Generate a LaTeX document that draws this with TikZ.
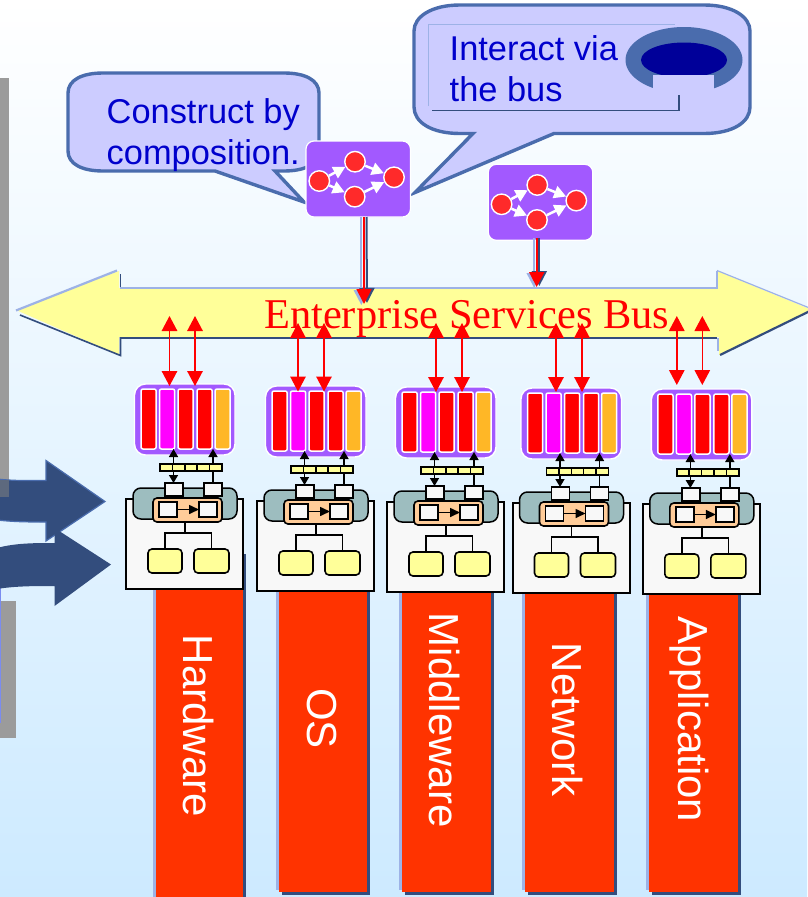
\documentclass[tikz,border=0pt]{standalone}
\usepackage{fontspec}
\setmainfont{Liberation Sans}
\newfontfamily\busfont{Liberation Serif}
\usetikzlibrary{arrows.meta,shapes.geometric}
\definecolor{skyb}{HTML}{CDEAFF}
\definecolor{paleb}{HTML}{9DB2E6}
\definecolor{darkb}{HTML}{334D7D}
\definecolor{edgeb}{HTML}{4A6CAD}
\definecolor{lilac}{HTML}{CCCCFF}
\definecolor{inkb}{HTML}{0000CC}
\definecolor{busy}{HTML}{FFFF99}
\definecolor{purp}{HTML}{A259FF}
\definecolor{ball}{HTML}{FF2A2A}
\definecolor{amber}{HTML}{FFB726}
\definecolor{teal2}{HTML}{9DBDBF}
\definecolor{peach}{HTML}{FFCC99}
\definecolor{offw}{HTML}{F8F8F8}
\definecolor{redor}{HTML}{FF3300}
\definecolor{greyb}{HTML}{9B9B9B}
\definecolor{pureM}{HTML}{FF00FF}
\definecolor{pureR}{HTML}{FF0000}
\definecolor{navyd}{HTML}{000099}
\definecolor{sideb}{HTML}{7A8CF0}
\tikzset{
  bxbase/.style={inner sep=0pt,outer sep=0pt},
  modbox/.style={fill=purp,draw=white,line width=1.4pt,rounded corners=11pt},
  slot/.style={draw=white,line width=1.5pt,rounded corners=2pt},
  strip/.style={fill=busy,draw=black,line width=1.5pt},
  tealbox/.style={fill=teal2,draw=black,line width=1.5pt,rounded corners=8pt},
  panel/.style={fill=offw,draw=black,line width=2pt},
  whitebox/.style={fill=offw,draw=black,line width=1.9pt},
  peachbox/.style={fill=peach,draw=black,line width=1.6pt,rounded corners=4pt},
  yelbox/.style={fill=busy,draw=black,line width=1.6pt,rounded corners=4pt},
  tower/.style={fill=redor},
  redarrow/.style={draw=pureR,line width=1.4pt,{Triangle[width=15.5pt,length=15pt]}-{Triangle[width=15.5pt,length=15pt]}},
  blackarrow/.style={draw=black,line width=1.6pt},
  treeline/.style={draw=black,line width=1.5pt},
  procbox/.style={fill=purp,draw=white,line width=1.2pt,rounded corners=8pt},
  procball/.style={circle,fill=ball,draw=white,line width=1.4pt,minimum size=20.5pt,inner sep=0pt},
  procarrow/.style={draw=white,line width=2.5pt,-{Triangle[width=12.5pt,length=12pt]}},
  callout/.style={fill=lilac,draw=edgeb,line width=3.4pt,line join=miter},
  calltext/.style={text=inkb,align=left,font=\fontsize{34.4}{41.2}\selectfont,inner sep=0pt,anchor=west},
  towertext/.style={text=white,rotate=-90,font=\fontsize{42}{42}\selectfont,inner sep=0pt,anchor=base west},
}
% box node from corner coordinates: style, name, x1,y1,x2,y2
\newcommand\bx[6]{\node[bxbase,#1,minimum width={(#5-(#3))*1pt},minimum height={(#6-(#4))*1pt}] (#2) at ({(#3+#5)/2},{(#4+#6)/2}) {};}
% tower: id, x1, x2, bottom, topdark
\newcommand\towerbar[5]{%
  \fill[paleb] (#2-3.5,#5) rectangle (#2,#4-2);
  \fill[darkb] (#2+3,#4) rectangle (#3+2.5,#4+2.5);
  \fill[darkb] (#3,#5) rectangle (#3+2.5,#4+2.5);
  \bx{tower}{t#1}{#2}{#5}{#3}{#4}%
}
% stack: id, x0, y0, arrow dx1, dx2, arrow top (abs), arrow tip (abs)
\newcommand\stackcol[7]{%
\begin{scope}[shift={(#2,#3)}]
  \bx{modbox}{m#1}{0}{0}{100.5}{71}
  \bx{slot,fill=pureR}{m#1s1}{6.5}{5}{21.7}{65}
  \bx{slot,fill=pureM}{m#1s2}{25}{5}{40.2}{65}
  \bx{slot,fill=pureR}{m#1s3}{43.5}{5}{58.7}{65}
  \bx{slot,fill=pureR}{m#1s4}{62.5}{5}{77.7}{65}
  \bx{slot,fill=amber}{m#1s5}{80.5}{5}{95.7}{65}
  \bx{panel}{w#1}{-8.5}{115}{108.5}{205}
  \bx{tealbox}{g#1}{-1.5}{104}{102.5}{135}
  \bx{whitebox}{a#1}{30.5}{99}{48.5}{112}
  \bx{whitebox}{b#1}{69.5}{99}{87.5}{112}
  \draw[blackarrow,{Triangle[width=9pt,length=8pt]}-{Triangle[width=9pt,length=8pt]}] ([xshift=-.5pt]a#1.north) -- ([xshift=-.5pt]a#1.north |- m#1s2.south);
  \draw[blackarrow,-{Triangle[width=9pt,length=8pt]}] (b#1.north) -- (b#1.north |- m#1s4.south);
  \bx{strip}{s#1}{25.5}{80}{87.5}{87}
  \foreach \q in {37.9,50.3,62.7,75.1} \draw[black,line width=1.5pt] (\q,80) -- (\q,87);
  \bx{peachbox}{o#1}{18.5}{114}{87.5}{138}
  \bx{whitebox}{p#1}{24.5}{118}{42.5}{133}
  \bx{whitebox}{q#1}{64.5}{118}{82.5}{133}
  \draw[blackarrow,-{Triangle[width=9pt,length=10pt]}] (p#1) -- (q#1.west);
  \bx{yelbox}{y#1}{13.5}{165}{47.5}{189}
  \bx{yelbox}{z#1}{59.5}{165}{94.5}{189}
  \coordinate (j#1) at (50.5,149);
  \draw[treeline] (o#1.south -| j#1) -- (j#1);
  \draw[treeline] (y#1.north) -- (y#1.north |- j#1) -- (z#1.north |- j#1) -- (z#1.north);
\end{scope}
\coordinate (u#1) at (#2+#4,#6);
\coordinate (v#1) at (#2+#4,#7);
\coordinate (uu#1) at (#2+#5,#6);
\coordinate (vv#1) at (#2+#5,#7);
}
% process box: name prefix, shift
\newcommand\proc[3]{%
\begin{scope}[shift={(#2,#3)}]
  \bx{procbox}{#1}{306}{141}{410.5}{217}
  \node[procball] (#1a) at (319.3,181) {};
  \node[procball] (#1b) at (355,161.7) {};
  \node[procball] (#1c) at (354.7,196.7) {};
  \node[procball] (#1d) at (394,177.3) {};
  \draw[procarrow] (#1a) -- (#1b);
  \draw[procarrow] (#1a) -- (#1c);
  \draw[procarrow] (#1b) -- (#1d);
  \draw[procarrow] (#1c) -- (#1d);
\end{scope}
}
\begin{document}
\begin{tikzpicture}[x=1pt,y=-1pt]
\useasboundingbox (0,0) rectangle (807,897);
\path[top color=white,bottom color=skyb] (0,0) rectangle (807,897);
% grey side bars
\bx{fill=greyb}{gup}{0}{78}{9}{497}
\bx{fill=greyb}{gdown}{0}{601}{16}{738}
\draw[sideb,line width=1pt] (0.4,584) -- (0.4,723);
% big arrows
\path[fill=darkb,draw=edgeb,line width=1.2pt] (-3,479) .. controls (15,481) and (30,480.5) .. (46,480.5) -- (46,460.5) -- (105,501.5) -- (46,541) -- (46,522) .. controls (30,522) and (15,522) .. (-3,520) -- cycle;
\path[fill=darkb] (-3,548) .. controls (15,543) and (35,543) .. (54.5,543) -- (54.5,528) -- (111,564.5) -- (54.5,606) -- (54.5,586) .. controls (35,586) and (15,586) .. (-3,589) -- cycle;
\fill[fill=gray!55!darkb] (0,480) rectangle (9,497);
% towers
\fill[darkb] (243,554) rectangle (246,600);
\towerbar{1}{156}{243}{900}{585}
\towerbar{2}{279}{367}{892}{585}
\towerbar{3}{402}{491}{892}{585}
\towerbar{4}{525}{614}{892}{585}
\towerbar{5}{649}{738}{892}{585}
\node[towertext] (lh) at (183.5,634.5) {Hardware};
\node[towertext] (lo) at (307.5,688) {OS};
\node[towertext] (lm) at (429.5,612.5) {Middleware};
\node[towertext] (ln) at (552.5,642.5) {Network};
\node[towertext] (la) at (678.5,616.5) {Application};
% bus
\fill[busy] (16,310) -- (119,271) -- (119,288) -- (717,288) -- (717,271) -- (812,310) -- (719,355) -- (719,337) -- (119,337) -- (119,355) -- cycle;
\draw[paleb,line width=2.2pt] (16,310.5) -- (117,270.5);
\draw[darkb,line width=1.8pt] (120.5,274) -- (120.5,288);
\draw[paleb,line width=2pt] (120,288) -- (717,288) -- (717,271);
\draw[paleb,line width=1.2pt] (717,270.5) -- (812,309);
\draw[darkb,line width=2.2pt] (812,310) -- (720,355);
\draw[paleb,line width=2pt] (717.5,338) -- (717.5,351);
\draw[darkb,line width=2pt] (120,337.5) -- (717,337.5);
\draw[darkb,line width=1.6pt] (120.5,337) -- (120.5,355.5) -- (20,315);
\node[text=pureR,font=\busfont\fontsize{42.4}{42.4}\selectfont,inner sep=0pt,anchor=base west] (busl) at (264,328) {Enterprise Services Bus};
% stacks
\stackcol{1}{134.5}{384}{35}{60.5}{316}{386}
\stackcol{2}{265.5}{386}{32.5}{58.5}{323}{391.5}
\stackcol{3}{395.5}{387}{40.5}{66.5}{323}{392}
\stackcol{4}{521}{388}{35}{61}{323}{392}
\stackcol{5}{651.3}{389}{25.5}{51}{316}{385}
\foreach \i in {1,...,5} {
  \draw[redarrow] (u\i) -- (v\i);
  \draw[redarrow] (uu\i) -- (vv\i);
}
% callouts
\path[callout] (103,73) -- (284,73) .. controls (305,73) and (319,80) .. (319,93) -- (319,151) .. controls (319,164) and (305,171) .. (284,171) -- (275,171) -- (304,202) -- (215,171) -- (103,171) .. controls (82,171) and (68,164) .. (68,151) -- (68,93) .. controls (68,80) and (82,73) .. (103,73) -- cycle;
\node[calltext] (ct1) at (106.5,135.5) {Construct by\\composition.};
\path[callout] (460,5) -- (704,5) .. controls (733,5) and (750,17) .. (750,31) -- (750,107) .. controls (750,122) and (733,133.5) .. (704,133.5) -- (554,133.5) -- (415,192.5) -- (473,133.5) -- (460,133.5) .. controls (431,133.5) and (414,122) .. (414,107) -- (414,31) .. controls (414,17) and (431,5) .. (460,5) -- cycle;
\draw[paleb,line width=1.8pt] (428.5,106) -- (428.5,24.5) -- (675,24.5);
\node[calltext] (ct2) at (449.5,68.5) {Interact via\\the bus};
\node[ellipse,fill=edgeb,minimum width=117pt,minimum height=66pt,inner sep=0pt] (ring) at (684,60) {};
\node[ellipse,fill=navyd,minimum width=86pt,minimum height=35pt,inner sep=0pt] (hole) at (684,60) {};
\fill[lilac] (653,75) rectangle (714,96);
\draw[darkb,line width=1.8pt] (432,110.5) -- (679,110.5) -- (679,95);
% process boxes
\proc{pa}{0}{0}
\proc{pb}{182.3}{23.3}
% service connectors
\coordinate (ea) at (364,304);
\coordinate (eb) at (536.7,287);
\coordinate (sb) at ([yshift=2pt]pb.south);
\draw[paleb,line width=2pt,-{Triangle[width=15pt,length=15pt]}] ([xshift=-2.7pt]ea |- pa.south) -- ([xshift=-2.7pt,yshift=-1pt]ea);
\draw[darkb,line width=2pt,-{Triangle[width=15pt,length=15pt]}] ([xshift=2.5pt]ea |- pa.south) -- ([xshift=3pt,yshift=1pt]ea);
\draw[pureR,line width=1.8pt,-{Triangle[width=15pt,length=15pt]}] (ea |- pa.south) -- (ea);
\draw[paleb,line width=2pt,-{Triangle[width=15pt,length=15pt]}] ([xshift=-2.5pt]eb |- sb) -- ([xshift=-2.5pt,yshift=-1pt]eb);
\draw[darkb,line width=2pt,-{Triangle[width=15pt,length=15pt]}] ([xshift=2.6pt]eb |- sb) -- ([xshift=2.6pt,yshift=1pt]eb);
\draw[pureR,line width=1.8pt,-{Triangle[width=15pt,length=15pt]}] (eb |- sb) -- (eb);
\end{tikzpicture}
\end{document}
